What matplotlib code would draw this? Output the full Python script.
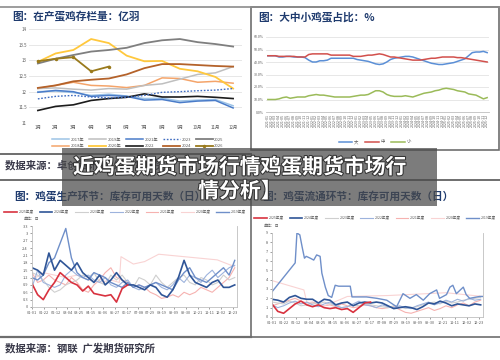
import numpy as np
import matplotlib.pyplot as plt
import matplotlib.patheffects as pe
from matplotlib.patches import Rectangle
from matplotlib.lines import Line2D

plt.rcParams['font.family'] = ['Noto Sans CJK SC', 'DejaVu Sans']

# ---------------- données : en haut à gauche (存栏量, 亿羽) ----------------
mois = ["1月", "2月", "3月", "4月", "5月", "6月", "7月", "8月", "9月", "10月", "11月", "12月"]
s2017 = [12.00, 12.02, 11.97, 11.88, 11.92, 11.86, 11.78, 11.79, 11.70, 11.73, 11.75, 11.55]
s2018 = [12.10, 12.20, 12.30, 12.20, 12.18, 12.13, 12.20, 12.44, 12.42, 12.30, 12.33, 12.27]
s2019 = [12.10, 12.12, 12.08, 12.05, 12.10, 12.08, 12.20, 12.25, 12.40, 12.55, 12.60, 12.80]
s2020 = [12.95, 13.22, 13.33, 13.68, 13.55, 13.15, 12.97, 12.98, 12.73, 12.65, 12.47, 12.10]
s2021 = [11.98, 12.04, 12.00, 11.85, 11.88, 11.85, 11.73, 11.75, 11.65, 11.70, 11.72, 11.48]
s2022 = [11.40, 11.53, 11.58, 11.72, 11.78, 11.82, 11.93, 11.83, 11.83, 11.85, 11.82, 11.78]
s2023 = [11.77, 11.85, 11.88, 11.83, 11.80, 11.82, 11.88, 11.98, 12.00, 12.03, 12.05, 12.10]
s2024 = [12.12, 12.20, 12.33, 12.38, 12.42, 12.55, 12.75, 12.88, 12.88, 12.85, 12.82, 12.80]
s2025 = [12.90, 13.05, 13.17, 13.28, 13.33, 13.40, 13.55, 13.64, 13.68, 13.58, 13.52, 13.44]
s2026 = [12.97, 13.05, 13.10, 12.65, 12.80]

# ---------------- données : en haut à droite (大中小鸡蛋占比, %) ----------------
annees_tr = ["2021", "2022", "2023", "2024", "2025"]
mois_tr = ["01", "02", "03", "04", "05", "06", "07", "08", "09", "10", "11", "12"]
part_da = [45, 45, 45, 44, 44, 44.5, 44.5, 44, 44, 44, 43.5,
           41.5, 40, 40, 41, 41, 41.5, 43, 43, 43, 43,
           43, 43, 43, 42, 41.5, 41, 40.5, 39.5, 38.5, 38,
           38.5, 40, 42, 43, 43.5, 44, 44.5, 44.5, 44, 43, 42,
           41, 40, 39, 38.5, 38, 38, 38.5, 39, 39.5, 40.5, 41.5, 42.5,
           45, 47.5, 48, 48, 48.5, 47.5]
part_zhong = [45, 45, 45, 44.5, 44.5, 44.5, 44.5, 44.5, 44, 44, 44,
              46, 46.5, 46.5, 46.5, 46.5, 46.5,
              45.5, 45.5, 45.5, 45.5, 45.5, 45.5, 44.5, 44.5,
              44.5, 45, 45.5, 45.5, 46, 46.5,
              46, 45, 44, 44,
              43.5, 43, 42.5, 42, 41.5, 41.5, 41.5, 42, 42.5, 43, 43,
              43.5, 44, 44, 44, 44, 43.5, 43.5,
              43, 42.5, 42, 41.5, 41, 40.5, 40]
part_xiao = [10, 10, 10, 10.5, 11.5, 12,
             11, 11.5, 12, 12, 12,
             13, 13.5, 14, 13.5, 13.5,
             13, 12.5, 12, 12, 12, 12, 12,
             12.5, 13, 13.5, 13.5, 14, 15.5,
             17, 17, 16,
             14, 13, 12.5, 12.5,
             12.5, 13, 12.5, 12, 13, 14,
             15, 15.5, 16, 17, 17.5, 18.5,
             19, 18.5, 18, 17, 16.5, 16,
             14.5, 14, 13.5, 12, 10.5, 11.5]

# ---------------- données : en bas (库存可用天数, 日) ----------------
jours = list(range(0, 361, 10))
ticks_jours = [0, 21, 42, 63, 84, 105, 126, 147, 168, 189, 210, 231, 252, 273, 294, 315, 336, 357]
ticks_dates = ["01-01", "01-22", "02-12", "03-04", "03-25", "04-15", "05-06", "05-27", "06-17",
               "07-08", "07-29", "08-19", "09-09", "09-30", "10-21", "11-11", "12-02", "12-23"]
saisons = ["2025年度", "2024年度", "2023年度", "2022年度", "2021年度", "2020年度", "2019年度"]

# 生产环节
p_rouge = [0.95, 0.5, 0.3, 0.7, 1.0, 1.4, 1.2, 1.0, 0.9, 0.65, 0.85, 0.55, 0.5, 0.45, 0.5, 0.2, 0.75, 0.9]
p_bleu = [1.6, 1.5, 1.3, 2.2, 1.5, 1.9, 1.7, 1.5, 1.8, 1.4, 1.2, 1.0, 1.3, 0.9, 1.1, 1.4, 1.1, 0.9, 0.9,
          0.8, 0.7, 0.9, 0.8, 0.5, 0.4, 0.7, 1.2, 1.9, 1.3, 1.0, 0.9, 0.8, 1.0, 1.1, 0.8, 0.8, 0.9]
p_gris = [1.4, 1.3, 1.1, 0.8, 0.6, 0.7, 0.9, 1.0, 1.1, 1.3, 1.2, 1.4, 1.0, 0.9, 1.3, 1.1, 1.3, 1.0, 0.8,
          1.2, 1.1, 0.9, 1.3, 1.0, 0.8, 1.0, 1.2, 1.3, 1.0, 0.9, 1.2, 1.1, 0.9, 1.0, 1.3, 1.1, 1.2]
p_bleu_clair = [0.8, 1.5, 1.0, 0.9, 0.8, 0.9, 1.3, 1.5, 1.3, 1.2, 1.3, 1.1, 1.0, 1.2, 0.9, 0.8, 1.0, 1.1, 0.8,
                0.7, 0.8, 0.9, 1.0, 0.8, 0.7, 0.9, 1.2, 1.0, 1.3, 1.2, 1.0, 1.3, 1.5, 1.2, 1.4, 1.6, 1.7]
p_rose = [1.4, 1.0, 1.1, 1.3, 1.1, 1.0, 0.9, 1.2, 1.0, 0.7, 0.6, 0.9, 1.1, 1.4, 1.6, 1.2, 1.1, 1.0, 0.8,
          0.9, 0.8, 0.6, 0.5, 0.35, 0.4, 0.5, 0.4, 0.6, 0.5, 0.6, 0.8, 0.7, 0.6, 0.8, 1.0, 1.2, 1.6]
p_rose_pale_j = [0, 20, 40, 60, 80, 100, 120, 140, 155, 158, 180, 200, 225, 329, 359]
p_rose_pale = [1.1, 1.4, 1.3, 1.2, 1.3, 1.1, 1.0, 1.1, 1.0, 2.05, 1.75, 1.85, 2.15, 1.92, 1.65]
p_acier = [1.2, 1.1, 1.3, 1.8, 2.0, 2.6, 3.2, 2.0, 1.4, 1.2, 1.1, 1.4, 1.3, 1.2, 1.0, 0.9, 0.8, 1.0, 0.8,
           0.9, 0.8, 0.9, 1.0, 0.9, 0.8, 0.7, 1.1, 1.4, 1.6, 1.2, 1.1, 1.0, 1.2, 1.4, 1.6, 1.3, 1.9]

# 流通环节
c_rouge = [1.4, 0.6, 0.4, 0.9, 1.4, 1.7, 1.3, 1.1, 1.3, 1.0, 0.9, 1.0, 0.8, 0.9, 0.5, 1.0, 1.5, 1.6]
c_bleu = [1.9, 1.8, 1.6, 2.1, 2.3, 2.0, 1.9, 1.9, 1.5, 1.9, 1.8, 1.3, 1.5, 1.6, 1.2, 1.5, 1.6, 1.5, 1.6,
          1.5, 1.2, 0.9, 1.0, 1.1, 1.0, 0.8, 1.1, 1.5, 1.4, 1.7, 1.5, 1.2, 1.4, 1.3, 1.2, 1.4, 1.3]
c_gris = [1.6, 1.5, 1.4, 1.7, 1.5, 1.2, 1.3, 1.5, 1.4, 1.6, 1.4, 1.2, 1.0, 1.1, 1.3, 1.2, 1.4, 1.3, 1.2,
          1.1, 1.0, 1.2, 1.1, 0.9, 1.0, 1.1, 1.3, 1.5, 1.6, 1.4, 1.7, 1.5, 1.6, 1.8, 1.9, 2.0, 2.1]
c_bleu_clair = [1.3, 1.0, 1.2, 1.5, 1.7, 1.4, 1.6, 1.3, 1.1, 1.4, 1.6, 1.2, 1.0, 1.1, 1.4, 1.7, 1.3, 1.2, 1.0,
                1.3, 1.1, 1.0, 1.2, 1.0, 0.9, 1.2, 1.4, 1.6, 1.3, 1.5, 1.8, 1.6, 1.9, 1.7, 2.0, 1.8, 1.9]
c_rose = [1.2, 1.4, 1.6, 1.8, 2.0, 1.7, 1.5, 1.6, 1.4, 1.2, 1.3, 1.1, 1.4, 1.2, 1.0, 1.1, 1.3, 1.2, 1.0,
          0.9, 1.0, 1.1, 0.8, 0.5, 0.4, 0.6, 0.8, 1.0, 0.7, 0.9, 1.2, 1.0, 1.3, 1.5, 1.2, 1.6, 1.8]
c_rose_pale_j = [0, 55, 60, 90, 115, 130, 200, 300, 364]
c_rose_pale = [3.9, 2.9, 1.6, 1.2, 1.8, 2.2, 2.3, 2.6, 2.2]
c_acier_j = [0, 40, 43, 48, 52, 56, 59, 66, 72, 77, 83, 86, 92, 97, 103, 109, 115, 135, 138, 163, 181,
             198, 215, 226, 238, 249, 261, 272, 284, 289, 301, 307, 312, 318, 330, 335, 341, 358, 364]
c_acier = [2.7, 5.8, 9.0, 8.8, 7.5, 6.3, 6.5, 6.3, 6.1, 6.65, 6.5, 4.7, 3.2, 2.3, 2.1, 3.4, 3.3, 3.3, 2.15,
           2.15, 2.0, 1.8, 1.1, 2.5, 2.0, 2.4, 1.8, 2.5, 2.9, 2.0, 2.4, 3.2, 3.4, 2.5, 3.2, 2.4, 2.0, 2.2, 2.2]

W, H = 500, 360
fig = plt.figure(figsize=(5, 3.6), dpi=100)
fig.patch.set_facecolor('white')

marine = '#1f3b6e'
gris_txt = '#595959'


def boite(x0, y0, x1, y1):
    return [x0 / W, 1 - y1 / H, (x1 - x0) / W, (y1 - y0) / H]


def trait(x0, y0, x1, y1, couleur='#808080', lw=1.0):
    fig.add_artist(Line2D([x0 / W, x1 / W], [1 - y0 / H, 1 - y1 / H], color=couleur, lw=lw))


def texte(x, y, s, **kw):
    fig.text(x / W, 1 - y / H, s, **kw)


def style_axe(ax, taille=3.2):
    ax.tick_params(labelsize=taille, colors=gris_txt, length=1.5, width=0.4, pad=1.5)
    for sp in ax.spines.values():
        sp.set_color('#bfbfbf')
        sp.set_linewidth(0.6)


# cadres et séparateurs
trait(0, 7, 500, 7, '#8c8c8c', 1.2)
fig.add_artist(Rectangle((251 / W, 1 - 150 / H), 248 / W, 143 / H, transform=fig.transFigure,
                         fill=False, edgecolor='#6e6e6e', lw=1.2))
trait(0, 154, 251, 154, '#6e6e6e', 1.4)
trait(0, 180, 500, 180, '#6e6e6e', 1.4)
trait(0, 337, 251, 337, '#6e6e6e', 1.6)
trait(251, 185, 251, 337, '#6e6e6e', 1.2)
trait(251, 337, 500, 337, '#6e6e6e', 1.2)

# titres des panneaux
kw_titre = dict(fontsize=7.7, fontweight='bold', color=marine, va='center')
texte(12, 17, "图：在产蛋鸡存栏量：亿羽", **kw_titre)
texte(258, 17, "图：大中小鸡蛋占比：%", **kw_titre)
texte(14, 197, "图：鸡蛋生产环节：库存可用天数（日）", **kw_titre)
texte(262, 197, "图：鸡蛋流通环节：库存可用天数（日）", **kw_titre)
kw_src = dict(fontsize=7.5, fontweight='bold', color='#3a3a4a', va='center')
texte(5, 165, "数据来源：卓创资讯  广发期货研究所", **kw_src)
texte(5, 348, "数据来源：钢联  广发期货研究所", **kw_src)

# ---------- en haut à gauche ----------
ax1 = fig.add_axes(boite(29, 29, 242, 123))
x12 = np.arange(1, 13)
ax1.plot(x12, s2017, color='#9dc3e6', lw=1.1, label="2017年")
ax1.plot(x12, s2018, color='#f4a46a', lw=1.1, label="2018年")
ax1.plot(x12, s2019, color='#bfbfbf', lw=1.1, label="2019年")
ax1.plot(x12, s2020, color='#ffc83d', lw=1.3, label="2020年")
ax1.plot(x12, s2021, color='#4a7cc9', lw=1.1, label="2021年")
ax1.plot(x12, s2022, color='#1c1c1c', lw=1.2, label="2022")
ax1.plot(x12, s2023, color='#3f6cc0', lw=1.0, ls=(0, (1.2, 1.2)), label="2023")
ax1.plot(x12, s2024, color='#b4622a', lw=1.3, label="2024")
ax1.plot(x12, s2025, color='#7f7f7f', lw=1.3, label="2025")
ax1.plot(x12[:len(s2026)], s2026, color='#9a7a1c', lw=1.3, marker='o', ms=1.5, label="2026")
ax1.set_xlim(0.5, 12.5)
ax1.set_ylim(11, 14)
ax1.set_yticks([11, 11.5, 12, 12.5, 13, 13.5, 14])
ax1.set_yticklabels(["11", "11.5", "12", "12.5", "13", "13.5", "14"])
ax1.set_xticks(x12)
ax1.set_xticklabels(mois)
style_axe(ax1)
ax1.tick_params(length=0)
ax1.grid(axis='y', color='#e3e3e3', lw=0.6)
ax1.set_axisbelow(True)
for sp in ax1.spines.values():
    sp.set_visible(False)
fig.legend(*ax1.get_legend_handles_labels(), loc='center', bbox_to_anchor=(138 / W, 1 - 143 / H),
           ncol=5, fontsize=3, frameon=False, handlelength=4, columnspacing=1.2,
           labelspacing=0.6, handletextpad=0.4, labelcolor=gris_txt)

# ---------- en haut à droite ----------
ax2 = fig.add_axes(boite(266, 37, 489, 112))
x60 = np.arange(len(part_da))
ax2.plot(x60, part_da, color='#5b8fd6', lw=1.1, label="大")
ax2.plot(x60, part_zhong, color='#d2504c', lw=1.1, label="中")
ax2.plot(x60, part_xiao, color='#9bbb59', lw=1.1, label="小")
ax2.set_xlim(-0.5, len(part_da) - 0.5)
ax2.set_ylim(0, 60)
ax2.set_yticks([0, 10, 20, 30, 40, 50, 60])
ax2.set_yticklabels(["0.0%", "10.0%", "20.0%", "30.0%", "40.0%", "50.0%", "60.0%"])
etiq_tr = [a + "-" + m for a in annees_tr for m in mois_tr]
ax2.set_xticks(x60)
ax2.set_xticklabels(etiq_tr, rotation=90)
style_axe(ax2, 2.6)
ax2.tick_params(length=0)
ax2.grid(axis='y', color='#e3e3e3', lw=0.6)
ax2.set_axisbelow(True)
for sp in ['top', 'right', 'left']:
    ax2.spines[sp].set_visible(False)
fig.legend(*ax2.get_legend_handles_labels(), loc='center', bbox_to_anchor=(375 / W, 1 - 142 / H),
           ncol=3, fontsize=3.2, frameon=False, handlelength=3, columnspacing=1.5,
           handletextpad=0.4, labelcolor=gris_txt)

# ---------- en bas à gauche ----------
ax3 = fig.add_axes(boite(32, 226, 237, 307))
ax3.plot(jours, p_rose, color='#f6b2b0', lw=0.8, label=saisons[4])
ax3.plot(p_rose_pale_j, p_rose_pale, color='#f9d3d3', lw=0.8, label=saisons[5])
ax3.plot(jours, p_gris, color='#cfcfcf', lw=0.8, label=saisons[2])
ax3.plot(jours, p_bleu_clair, color='#9db3dd', lw=0.8, label=saisons[3])
ax3.plot(jours, p_acier, color='#6f8fc9', lw=1.0, label=saisons[6])
ax3.plot(jours, p_bleu, color='#2f5597', lw=1.2, label=saisons[1])
ax3.plot(jours[:len(p_rouge)], p_rouge, color='#d8323f', lw=1.2, label=saisons[0])
ax3.set_xlim(0, 364)
ax3.set_ylim(0, 3.3)
ax3.set_yticks([0, 0.3, 0.6, 0.9, 1.2, 1.5, 1.8, 2.1, 2.4, 2.7, 3.0, 3.3])
ax3.set_yticklabels(["0", "0.3", "0.6", "0.9", "1.2", "1.5", "1.8", "2.1", "2.4", "2.7", "3", "3.3"])
ax3.set_xticks(ticks_jours)
ax3.set_xticklabels(ticks_dates)
style_axe(ax3, 2.8)
ax3.spines['top'].set_visible(False)
h3, l3 = ax3.get_legend_handles_labels()
ordre = [6, 5, 2, 3, 0, 1, 4]
fig.legend([h3[i] for i in ordre], [l3[i] for i in ordre], loc='center',
           bbox_to_anchor=(125 / W, 1 - 212 / H), ncol=7, fontsize=2.6, frameon=False,
           handlelength=3.5, columnspacing=1.6, handletextpad=0.5, labelcolor=gris_txt)
texte(24, 219, "单位：日", fontsize=2.8, color=gris_txt, va='center')

# ---------- en bas à droite ----------
ax4 = fig.add_axes(boite(272, 233, 483, 317))
ax4.plot(jours, c_rose, color='#f6b2b0', lw=0.8, label=saisons[4])
ax4.plot(c_rose_pale_j, c_rose_pale, color='#f9d3d3', lw=0.8, label=saisons[5])
ax4.plot(jours, c_gris, color='#cfcfcf', lw=0.8, label=saisons[2])
ax4.plot(jours, c_bleu_clair, color='#9db3dd', lw=0.8, label=saisons[3])
ax4.plot(c_acier_j, c_acier, color='#6f8fc9', lw=1.0, label=saisons[6])
ax4.plot(jours, c_bleu, color='#2f5597', lw=1.2, label=saisons[1])
ax4.plot(jours[:len(c_rouge)], c_rouge, color='#d8323f', lw=1.2, label=saisons[0])
ax4.set_xlim(0, 364)
ax4.set_ylim(0, 9)
ax4.set_yticks(range(10))
ax4.set_xticks(ticks_jours)
ax4.set_xticklabels(ticks_dates)
style_axe(ax4, 2.8)
ax4.spines['top'].set_visible(False)
h4, l4 = ax4.get_legend_handles_labels()
fig.legend([h4[i] for i in ordre], [l4[i] for i in ordre], loc='center',
           bbox_to_anchor=(375 / W, 1 - 218 / H), ncol=7, fontsize=2.6, frameon=False,
           handlelength=3.5, columnspacing=1.6, handletextpad=0.5, labelcolor=gris_txt)
texte(264, 226, "单位：日", fontsize=2.8, color=gris_txt, va='center')

# ---------- bandeau de titre ----------
fig.add_artist(Rectangle((62 / W, 1 - 206 / H), 375 / W, 58 / H, transform=fig.transFigure,
                         facecolor='#4a4a4a', alpha=0.72, edgecolor='none', zorder=10))
kw_ban = dict(fontsize=15, fontweight='bold', color='white', ha='center', va='center', zorder=11,
              path_effects=[pe.withStroke(linewidth=1.5, foreground='#333333')])
texte(240, 167, "近鸡蛋期货市场行情鸡蛋期货市场行", **kw_ban)
texte(240, 191, "情分析】", **kw_ban)

fig.savefig("out.png", dpi=100)
